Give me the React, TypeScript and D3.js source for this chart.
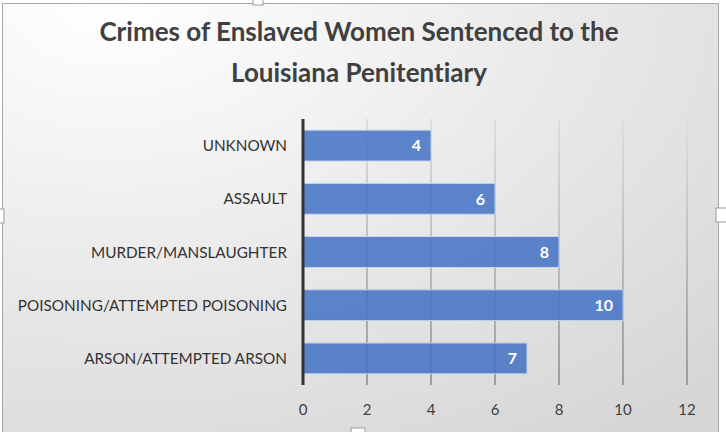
import React from "react";
import * as d3 from "d3";

const title = ["Crimes of Enslaved Women Sentenced to the", "Louisiana Penitentiary"];
const categories = [
  "UNKNOWN",
  "ASSAULT",
  "MURDER/MANSLAUGHTER",
  "POISONING/ATTEMPTED POISONING",
  "ARSON/ATTEMPTED ARSON",
];
const values = [4, 6, 8, 10, 7];
const ticks = [0, 2, 4, 6, 8, 10, 12];

const W = 726;
const H = 432;
const FONT = "Lato, 'Open Sans', sans-serif";

export default function App() {
  const x = d3.scaleLinear().domain([0, 12]).range([303, 687]);
  const y = d3
    .scaleBand<string>()
    .domain(categories)
    .range([119, 385])
    .paddingInner(0.42)
    .paddingOuter(0.21);
  const top = 119;
  const bottom = 385;

  const handle = (hx: number, hy: number, w: number, h: number, k: string) => (
    <rect key={k} x={hx} y={hy} width={w} height={h} fill="#fff" stroke="#9a9a9a" strokeWidth={1} />
  );

  return (
    <svg
      width={W}
      height={H}
      style={{ position: "absolute", left: 0, top: 0, fontVariantLigatures: "none" }}
      fontFamily={FONT}
    >
      <defs>
        <radialGradient id="bg" cx="0.15" cy="0" r="1.2" fx="0.15" fy="0">
          <stop offset="0" stopColor="#ffffff" />
          <stop offset="1" stopColor="#d6d6d6" />
        </radialGradient>
        <linearGradient id="grid" gradientUnits="userSpaceOnUse" x1="0" y1={top} x2="0" y2={bottom}>
          <stop offset="0" stopColor="#dedede" />
          <stop offset="1" stopColor="#9c9c9c" />
        </linearGradient>
      </defs>
      <rect x={0} y={0} width={W} height={H} fill="#fff" />
      <rect x={2.5} y={3.5} width={716} height={440} fill="url(#bg)" stroke="#a6a6a6" strokeWidth={1} />

      {title.map((t, i) => (
        <text
          key={t}
          x={359}
          y={41 + i * 41}
          textAnchor="middle"
          fontSize={26}
          fontWeight={700}
          fill="#404040"
        >
          {t}
        </text>
      ))}

      {ticks.slice(1).map((t) => (
        <line key={t} x1={x(t)} x2={x(t)} y1={top} y2={bottom} stroke="url(#grid)" strokeWidth={2} />
      ))}

      {categories.map((c, i) => (
        <g key={c}>
          <rect
            x={x(0)}
            y={y(c)!}
            width={x(values[i]) - x(0)}
            height={y.bandwidth()}
            fill="#4472c4"
            fillOpacity={0.86}
            stroke="#c5d3ee"
            strokeWidth={1}
          />
          <text
            x={x(values[i]) - 10}
            y={y(c)! + y.bandwidth() / 2}
            dy="0.36em"
            textAnchor="end"
            fontSize={16}
            fontWeight={700}
            fill="#fff"
          >
            {values[i]}
          </text>
          <text
            x={287}
            y={y(c)! + y.bandwidth() / 2}
            dy="0.36em"
            textAnchor="end"
            fontSize={15.3}
            fill="#333"
          >
            {c}
          </text>
        </g>
      ))}

      <line x1={x(0)} x2={x(0)} y1={top} y2={bottom} stroke="#333" strokeWidth={3} />

      {ticks.map((t) => (
        <text key={t} x={x(t)} y={410} dy="0.36em" textAnchor="middle" fontSize={15} fill="#404040">
          {t}
        </text>
      ))}

      {handle(253, -3, 10, 8, "t")}
      {handle(-4, 209, 8, 14, "l")}
      {handle(716, 208, 12, 14, "r")}
      {handle(351, 428, 14, 8, "b")}
    </svg>
  );
}
